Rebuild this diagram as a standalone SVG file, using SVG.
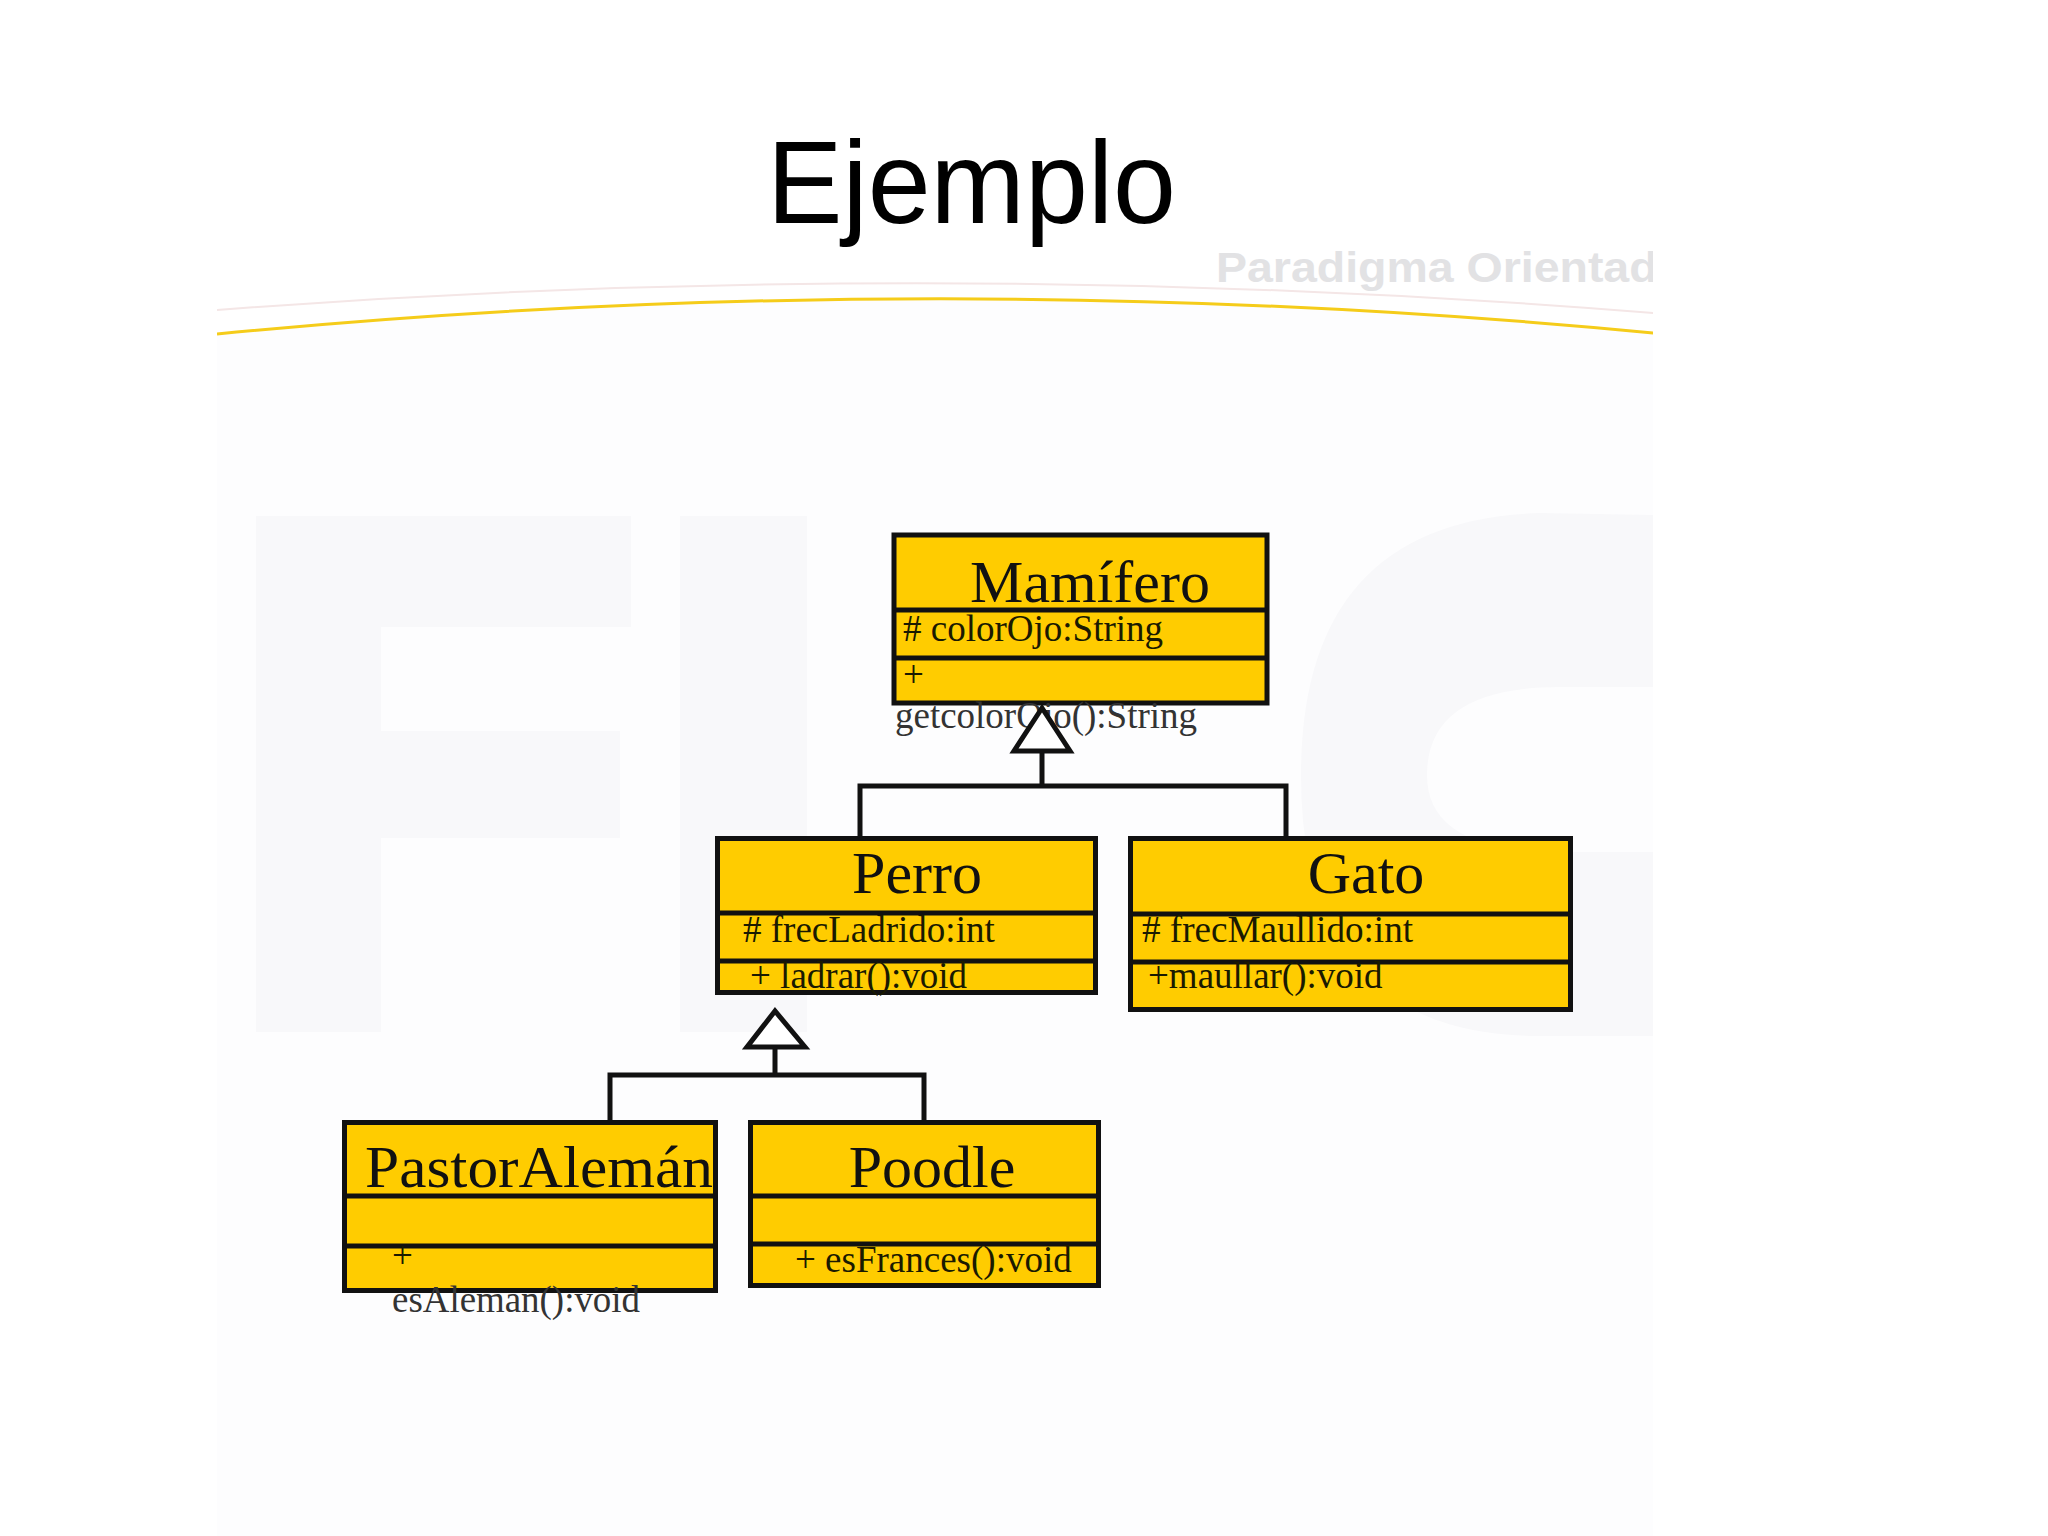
<svg xmlns="http://www.w3.org/2000/svg" width="2048" height="1536" viewBox="0 0 2048 1536">
  <defs>
    <clipPath id="slide"><rect x="217" y="0" width="1436" height="1536"/></clipPath>
    <style>
      .box { fill: #FFCC00; stroke: #111; stroke-width: 5; }
      .div { stroke: #111; stroke-width: 5; }
      .hdr { font-family: "Liberation Serif", "Times New Roman", serif; font-size: 60px; fill: #111; text-anchor: middle; }
      .mem { font-family: "Liberation Serif", "Times New Roman", serif; font-size: 37px; fill: #1a1a00; }
      .out { font-family: "Liberation Serif", "Times New Roman", serif; font-size: 38px; fill: #333; }
      .wire { fill: none; stroke: #111; stroke-width: 5; }
      .tri { fill: #fff; stroke: #111; stroke-width: 5; stroke-linejoin: miter; }
      .wm { fill: #f8f8fa; }
    </style>
  </defs>

  <rect width="2048" height="1536" fill="#ffffff"/>
  <g id="background" clip-path="url(#slide)">
    <path d="M217,334 Q935,264 1654,333 V1536 H217 Z" fill="#fdfdfe"/>
    <!-- faint watermark shapes -->
    <rect class="wm" x="256" y="516" width="125" height="516"/>
    <rect class="wm" x="381" y="516" width="250" height="111"/>
    <rect class="wm" x="381" y="731" width="239" height="107"/>
    <rect class="wm" x="680" y="516" width="127" height="516"/>
    <path class="wm" d="M1700,516 L1540,513 Q1301,520 1301,775 Q1301,1036 1540,1036 L1700,1036 L1700,852 L1560,852 Q1427,852 1427,775 Q1427,687 1560,687 L1700,687 Z"/>
    <text x="1216" y="282" font-family="Liberation Sans, Arial, sans-serif" font-weight="bold" font-size="43" fill="#e2e2e4" textLength="470" lengthAdjust="spacingAndGlyphs">Paradigma Orientado</text>
    <path d="M217,310 Q935,255 1654,313" fill="none" stroke="#f4e6e6" stroke-width="2"/>
    <path d="M217,334 Q935,264 1654,333" fill="none" stroke="#F5CC1A" stroke-width="3"/>
  </g>

  <text id="title" x="767" y="223" font-family="Liberation Sans, Arial, sans-serif" font-size="116" fill="#000" textLength="409" lengthAdjust="spacingAndGlyphs">Ejemplo</text>

  <g id="node-mamifero">
    <rect class="box" x="894" y="535" width="373" height="168"/>
    <line class="div" x1="894" y1="610" x2="1267" y2="610"/>
    <line class="div" x1="894" y1="658" x2="1267" y2="658"/>
    <text class="hdr" x="1090" y="602">Mamífero</text>
    <text class="mem" x="903" y="641"># colorOjo:String</text>
    <text class="mem" x="903" y="687">+</text>
    <text class="out" x="895" y="728" textLength="302" lengthAdjust="spacingAndGlyphs">getcolorOjo():String</text>
  </g>

  <g id="node-perro">
    <rect class="box" x="717.5" y="838.5" width="378" height="154"/>
    <line class="div" x1="717" y1="913" x2="1096" y2="913"/>
    <line class="div" x1="717" y1="961" x2="1096" y2="961"/>
    <text class="hdr" x="917" y="893">Perro</text>
    <text class="mem" x="743" y="942"># frecLadrido:int</text>
    <text class="mem" x="750" y="988">+ ladrar():void</text>
  </g>

  <g id="node-gato">
    <rect class="box" x="1130.5" y="838.5" width="440" height="171"/>
    <line class="div" x1="1130" y1="914" x2="1571" y2="914"/>
    <line class="div" x1="1130" y1="962" x2="1571" y2="962"/>
    <text class="hdr" x="1366" y="893">Gato</text>
    <text class="mem" x="1142" y="942" textLength="271" lengthAdjust="spacingAndGlyphs"># frecMaullido:int</text>
    <text class="mem" x="1148" y="988">+maullar():void</text>
  </g>

  <g id="node-pastoraleman">
    <rect class="box" x="344.5" y="1122.5" width="371" height="168"/>
    <line class="div" x1="344" y1="1196" x2="716" y2="1196"/>
    <line class="div" x1="344" y1="1246" x2="716" y2="1246"/>
    <text class="hdr" x="539" y="1187" textLength="348" lengthAdjust="spacingAndGlyphs">PastorAlemán</text>
    <text class="mem" x="392" y="1268">+</text>
    <text class="out" x="392" y="1312" font-size="37" textLength="248" lengthAdjust="spacingAndGlyphs">esAleman():void</text>
  </g>

  <g id="node-poodle">
    <rect class="box" x="750.5" y="1122.5" width="348" height="163"/>
    <line class="div" x1="750" y1="1196" x2="1099" y2="1196"/>
    <line class="div" x1="750" y1="1244" x2="1099" y2="1244"/>
    <text class="hdr" x="932" y="1187">Poodle</text>
    <text class="mem" x="795" y="1272">+ esFrances():void</text>
  </g>

  <g id="connectors">
    <path class="wire" d="M1042,751 V786 M857.5,786 H1288.5 M860,786 V836 M1286,786 V836"/>
    <polygon class="tri" points="1042,708 1014,751 1070,751"/>
    <path class="wire" d="M775,1047 V1075 M607.5,1075 H926.5 M610,1075 V1120 M924,1075 V1120"/>
    <polygon class="tri" points="775,1011 747,1047 805,1047"/>
  </g>
</svg>
